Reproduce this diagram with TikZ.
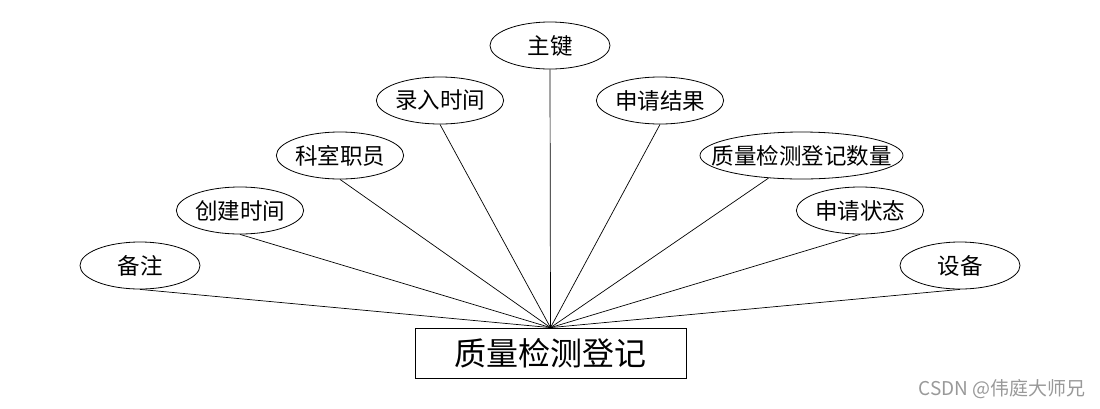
\documentclass[tikz,border=0pt]{standalone}
\usepackage{fontspec}
\setmainfont{Noto Sans CJK SC}
\usetikzlibrary{shapes.geometric}
\begin{document}
\begin{tikzpicture}[x=1pt,y=-1pt,
  attr/.style={draw, ellipse, line width=0.8pt, minimum width=120pt, minimum height=47pt, inner sep=0pt, font=\fontsize{22.5}{24}\selectfont},
  ent/.style={draw, rectangle, line width=0.8pt, minimum width=271pt, minimum height=50pt, inner sep=0pt, font=\fontsize{32}{36}\selectfont},
  link/.style={line width=0.7pt}]
\useasboundingbox (0,0) rectangle (1100,408);
\node[ent] (e) at (550.5,353) {质量检测登记};
\node[attr] (k) at (550,45.5) {主键};
\node[attr] (lr) at (440,100.5) {录入时间};
\node[attr] (sj) at (660,100.5) {申请结果};
\node[attr] (ks) at (340,155.5) {科室职员};
\node[attr, minimum width=203pt, inner xsep=-20pt] (sl) at (801.5,155.5) {质量检测登记数量};
\node[attr] (cj) at (240,210.5) {创建时间};
\node[attr] (zt) at (860,210.5) {申请状态};
\node[attr] (bz) at (140,265.5) {备注};
\node[attr] (sb) at (960,265.5) {设备};
\node[text=black!40, font=\fontsize{19}{21}\selectfont, anchor=east, inner sep=0pt] (wm) at (1086,389) {CSDN @伟庭大师兄};
\draw[link] (k.south) -- (e.north);
\draw[link] (lr.south) -- (e.north);
\draw[link] (sj.south) -- (e.north);
\draw[link] (ks.south) -- (e.north);
\draw[link] (sl) -- (e.north);
\draw[link] (cj.south) -- (e.north);
\draw[link] (zt.south) -- (e.north);
\draw[link] (bz.south) -- (e.north);
\draw[link] (sb.south) -- (e.north);
\end{tikzpicture}
\end{document}
